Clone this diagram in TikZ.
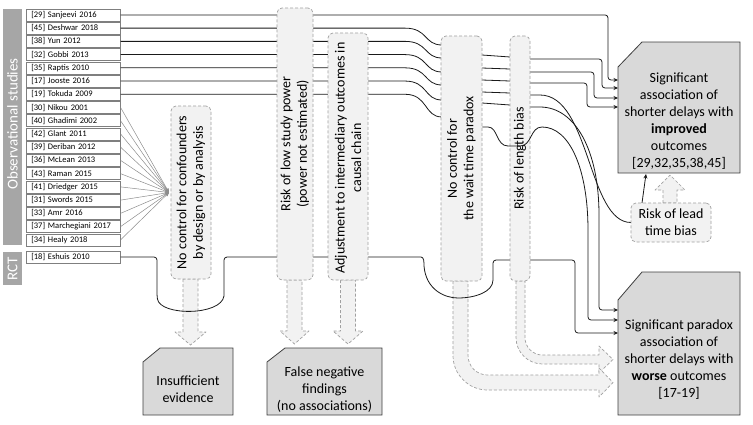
\documentclass[tikz,border=0pt]{standalone}
\usepackage{fontspec}
\setmainfont{Carlito}
\usetikzlibrary{arrows.meta}
\definecolor{colfill}{HTML}{F2F2F2}
\definecolor{dashc}{HTML}{A0A0A0}
\definecolor{barc}{HTML}{A6A6A6}
\definecolor{outfill}{HTML}{D9D9D9}
\definecolor{outdraw}{HTML}{3F3F3F}
\definecolor{fanc}{HTML}{8C8C8C}
\definecolor{lnc}{HTML}{1A1A1A}
\definecolor{lstdraw}{HTML}{7F7F7F}
\tikzset{
 lst/.style={draw=lstdraw, fill=white, line width=0.6pt, anchor=west, minimum height=12pt, text width=84pt, inner xsep=5pt, inner ysep=0pt, align=left, font=\fontsize{8.5}{9}\selectfont},
 colbox/.style={draw=dashc, fill=colfill, dash pattern=on 3pt off 2pt, line width=0.7pt, rounded corners=5pt, inner sep=0pt},
 coltext/.style={rotate=90, align=center, font=\fontsize{14}{16.5}\selectfont, inner sep=0pt},
 harrow/.style={draw=dashc, fill=colfill, dash pattern=on 3pt off 2pt, line width=0.7pt, line join=round},
 outbox/.style={draw=outdraw, fill=outfill, line width=0.8pt},
 bigtext/.style={align=center, font=\fontsize{14}{17}\selectfont, inner sep=0pt},
 ln/.style={draw=lnc, line width=0.8pt},
 tipb/.style={-{Stealth[length=4.5pt,width=4pt]}},
 fan/.style={draw=fanc, line width=0.5pt, -{Stealth[length=4pt,width=3.5pt]}},
 bar/.style={fill=barc, minimum width=19pt, inner sep=0pt},
 bartext/.style={rotate=90, text=white, font=\fontsize{15}{17}\selectfont, inner sep=0pt},
}
\begin{document}
\begin{tikzpicture}[x=1pt,y=-1pt]
\useasboundingbox (0,0) rectangle (753,424);

% left bars
\node[bar, minimum height=236pt] (obsbar) at (12.5,127) {};
\node[bartext] (obstext) at (12.5,124) {Observational studies};
\node[bar, minimum height=33pt] (rctbar) at (12.5,268.5) {};
\node[bartext] (rcttext) at (12.5,268.5) {RCT};

% study list
\node[lst] (r0) at (26,14.9) {[29] Sanjeevi 2016};
\node[lst] (r1) at (26,28.13) {[45] Deshwar 2018};
\node[lst] (r2) at (26,41.36) {[38] Yun 2012};
\node[lst] (r3) at (26,54.59) {[32] Gobbi 2013};
\node[lst] (r4) at (26,67.82) {[35] Raptis 2010};
\node[lst] (r5) at (26,81.05) {[17] Jooste 2016};
\node[lst] (r6) at (26,94.28) {[19] Tokuda 2009};
\node[lst] (r7) at (26,107.51) {[30] Nikou 2001};
\node[lst] (r8) at (26,120.74) {[40] Ghadimi 2002};
\node[lst] (r9) at (26,133.97) {[42] Glant 2011};
\node[lst] (r10) at (26,147.2) {[39] Deriban 2012};
\node[lst] (r11) at (26,160.43) {[36] McLean 2013};
\node[lst] (r12) at (26,173.66) {[43] Raman 2015};
\node[lst] (r13) at (26,186.89) {[41] Driedger 2015};
\node[lst] (r14) at (26,200.12) {[31] Swords 2015};
\node[lst] (r15) at (26,213.35) {[33] Amr 2016};
\node[lst] (r16) at (26,226.58) {[37] Marchegiani 2017};
\node[lst] (r17) at (26,239.81) {[34] Healy 2018};
\node[lst] (rce) at (26,257) {[18] Eshuis 2010};

% outcome boxes
\draw[outbox] (618,67) -- (642,42) -- (740,42) -- (740,173) -- (618,173) -- cycle;
\node[bigtext] (oA) at (679,121.5) {Significant\\association of\\shorter delays with\\\textbf{improved}\\outcomes\\{}[29,32,35,38,45]};
\draw[outbox] (618,300) -- (642,272) -- (740,272) -- (740,415) -- (618,415) -- cycle;
\node[bigtext] (oB) at (679,360) {Significant paradox\\association of\\shorter delays with\\\textbf{worse} outcomes\\{}[17-19]};
\draw[outbox] (143,362) -- (160,348) -- (233,348) -- (233,415) -- (143,415) -- cycle;
\node[bigtext] (oC) at (188,389) {Insufficient\\evidence};
\draw[outbox] (267,362) -- (285,348) -- (382,348) -- (382,415) -- (267,415) -- cycle;
\node[bigtext] (oD) at (324.5,390) {False negative\\findings\\(no associations)};

% hollow arrows
\draw[harrow] (183,279) -- (183,332) -- (175,332) -- (190.5,345) -- (206,332) -- (198,332) -- (198,279) -- cycle;
\draw[harrow] (287,280) -- (287,331) -- (280,331) -- (294.5,344) -- (309,331) -- (302,331) -- (302,280) -- cycle;
\draw[harrow] (340.5,280) -- (340.5,331) -- (333,331) -- (348,344) -- (363,331) -- (355.5,331) -- (355.5,280) -- cycle;
\draw[harrow] (516,281) -- (516,337.5) .. controls (516,352.1) and (527.9,364) .. (542.5,364) -- (599,364) -- (599,373) -- (613,359.5) -- (599,346) -- (599,355) -- (542.5,355) .. controls (532.8,355) and (525,347.2) .. (525,337.5) -- (525,281) -- cycle;
\draw[harrow] (453,281) -- (453,355.5) .. controls (453,374.5) and (468.5,390) .. (487.5,390) -- (599,390) -- (599,397) -- (613,382.5) -- (599,368) -- (599,375) -- (487.5,375) .. controls (476.7,375) and (468,366.3) .. (468,355.5) -- (468,281) -- cycle;
\draw[harrow] (663,203) -- (663,190) -- (655,190) -- (670,175) -- (685,190) -- (677,190) -- (677,203) -- cycle;

% connectors from the studies
\draw[ln,tipb,rounded corners=3pt] (r0.east) -| (608,80) -- (618,80);
\draw[ln,tipb] (r1.east) -- (405,28.13) .. controls (428,28.13) and (424,45) .. (442,45) -- (482,55) -- (510,57) -- (530,59) [rounded corners=3pt] -| (602,88) -- (618,88);
\draw[ln,tipb] (r2.east) -- (405,41.36) .. controls (428,41.36) and (424,58) .. (442,58) -- (482,68) -- (510,69) -- (530,72) [rounded corners=3pt] -| (594,98) -- (618,98);
\draw[ln,tipb] (r3.east) -- (405,54.59) .. controls (428,54.59) and (424,72) .. (442,72) -- (482,80) -- (510,81) -- (530,83) [rounded corners=3pt] -| (587,107) -- (618,107);
\draw[ln] (r4.east) -- (405,67.82) .. controls (428,67.82) and (424,85) .. (442,85) -- (482,92) -- (510,93) -- (530,95) -- (540,95) .. controls (590,95) and (588,222.5) .. (631,222.5);
\draw[ln,tipb] (r5.east) -- (405,81.05) .. controls (428,81.05) and (424,100) .. (442,100) -- (482,103) -- (510,105) -- (530,107) -- (540,107) .. controls (575,107) and (599,150) .. (599,215) [rounded corners=3pt] -- (599,310) -- (618,310);
\draw[ln] (r6.east) -- (405,94.28) .. controls (428,94.28) and (424,117) .. (442,117) -- (482,127);
\draw[ln,tipb] (rce.east) [rounded corners=3pt] -- (157,257) -- (157,296) [sharp corners] .. controls (160,316) and (221,316) .. (224,296) [rounded corners=3pt] -- (224,257) -- (418,257) [sharp corners] .. controls (424,257) and (424,262) .. (424,266) .. controls (426,290) and (445,298) .. (458,298) .. controls (475,298) and (493,292) .. (493,280) [rounded corners=3pt] -- (493,260) -- (575,260) -- (575,333) -- (618,333);

% fan of studies without confounder control
\foreach \i in {7,...,17} { \draw[fan] (r\i.east) -- (169,192.5); }

% column boxes
\node[colbox, minimum width=40pt, minimum height=173pt] (cb1) at (191,192.5) {};
\node[coltext] (cb1t) at (191,192.5) {No control for confounders\\by design or by analysis};
\node[colbox, minimum width=36pt, minimum height=272pt] (cb2) at (295,144) {};
\node[coltext] (cb2t) at (295,144) {Risk of low study power\\(power not estimated)};
\node[colbox, minimum width=40pt, minimum height=247pt] (cb3) at (348,156.5) {};
\node[coltext] (cb3t) at (348,158) {Adjustment to intermediary outcomes in\\causal chain};
\node[colbox, minimum width=41pt, minimum height=245pt] (cb4) at (461.5,158.5) {};
\node[coltext] (cb4t) at (461.5,158.5) {No control for\\the wait time paradox};
\node[colbox, minimum width=20pt, minimum height=245pt] (cb5) at (520,158.5) {};
\node[coltext] (cb5t) at (520,158.5) {Risk of length bias};

% paradox line crossing the length-bias box
\draw[ln,tipb] (cb4.east |- 0,127) -- (488,127) .. controls (498,127) and (496,146) .. (508,146) -- (520,146) .. controls (532,146) and (530,127) .. (542,127) .. controls (570,127) and (588,170) .. (588,230) [rounded corners=3pt] -- (588,320) -- (618,320);

% lead time bias
\node[colbox, minimum width=80pt, minimum height=39pt] (lead) at (671,222.5) {};
\node[bigtext] (leadt) at (671,222) {Risk of lead\\time bias};
\draw[ln,tipb] (642,203) -- (646,174);
\end{tikzpicture}
\end{document}
